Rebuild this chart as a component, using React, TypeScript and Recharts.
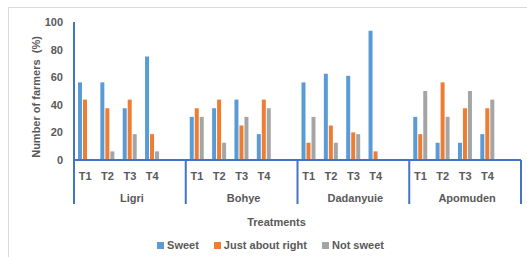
import React from 'react';
import { BarChart, Bar, XAxis, YAxis, Legend, Label } from 'recharts';

const locations = ['Ligri', 'Bohye', 'Dadanyuie', 'Apomuden'];
const treatments = ['T1', 'T2', 'T3', 'T4'];
// values in location order, T1..T4 within each location
const sweetValues = [56.25, 56.25, 37.5, 75, 31.25, 37.5, 43.75, 18.75, 56.25, 62.5, 61, 93.75, 31.25, 12.5, 12.5, 18.75];
const justRightValues = [43.75, 37.5, 43.75, 18.75, 37.5, 43.75, 25, 43.75, 12.5, 25, 20, 6.25, 18.75, 56.25, 37.5, 37.5];
const notSweetValues = [0, 6.25, 18.75, 6.25, 31.25, 12.5, 31.25, 37.5, 31.25, 12.5, 18.75, 0, 50, 31.25, 50, 43.75];
const yTicks = [0, 20, 40, 60, 80, 100];

const FONT = '"Liberation Sans", Arial, sans-serif';
const TEXT = '#595959';
const AXIS = '#4472C4';

const series = [
  { key: 'sweet', name: 'Sweet', color: '#5B9BD5' },
  { key: 'jar', name: 'Just about right', color: '#ED7D31' },
  { key: 'notSweet', name: 'Not sweet', color: '#A5A5A5' },
];

type Row = {
  key: string;
  t: string;
  loc: string;
  sweet: number | null;
  jar: number | null;
  notSweet: number | null;
  sepLeft: boolean;
  sepRight: boolean;
};

const data: Row[] = [];
locations.forEach((loc, li) => {
  treatments.forEach((t, ti) => {
    const i = li * treatments.length + ti;
    data.push({
      key: `${loc}-${t}`,
      t,
      loc: ti === 2 ? loc : '',
      sweet: sweetValues[i],
      jar: justRightValues[i],
      notSweet: notSweetValues[i],
      sepLeft: ti === 0,
      sepRight: false,
    });
  });
  data.push({
    key: `${loc}-gap`,
    t: '',
    loc: '',
    sweet: null,
    jar: null,
    notSweet: null,
    sepLeft: false,
    sepRight: li === locations.length - 1,
  });
});

const CategoryTick = (props: any) => {
  const { x, y, payload } = props;
  const row = data[payload.index] || data.find((d) => d.key === payload.value);
  const off = payload.offset || 0;
  if (!row) return null;
  return (
    <g>
      {row.sepLeft && <line x1={x - off} x2={x - off} y1={y} y2={y + 44} stroke={AXIS} strokeWidth={2} />}
      {row.sepRight && <line x1={x + off} x2={x + off} y1={y} y2={y + 44} stroke={AXIS} strokeWidth={2} />}
      {row.t && (
        <text x={x} y={y + 16} textAnchor="middle" dominantBaseline="central" fontFamily={FONT} fontWeight="bold" fontSize={11} fill={TEXT}>
          {row.t}
        </text>
      )}
      {row.loc && (
        <text x={x + 2} y={y + 38} textAnchor="middle" dominantBaseline="central" fontFamily={FONT} fontWeight="bold" fontSize={11} fill={TEXT}>
          {row.loc}
        </text>
      )}
    </g>
  );
};

const renderLegend = () => (
  <div
    style={{
      display: 'flex',
      justifyContent: 'center',
      alignItems: 'center',
      height: 24,
      fontFamily: FONT,
      fontWeight: 'bold',
      fontSize: 11,
      color: TEXT,
    }}
  >
    {series.map((s, i) => (
      <span key={s.key} style={{ display: 'flex', alignItems: 'center', marginLeft: i === 0 ? 0 : 15 }}>
        <span style={{ display: 'inline-block', width: 7, height: 7, background: s.color, marginRight: 3 }} />
        {s.name}
      </span>
    ))}
  </div>
);

export default function App() {
  return (
    <div style={{ position: 'fixed', left: 0, top: 0, width: 527, height: 257, background: '#fff', overflow: 'hidden' }}>
      <div
        style={{
          position: 'absolute',
          left: 8,
          top: 7,
          width: 700,
          height: 400,
          borderTop: '1px solid #D9D9D9',
          borderLeft: '1px solid #D9D9D9',
        }}
      />
      <div style={{ position: 'absolute', left: 0, top: 0 }}>
        <BarChart
          width={527}
          height={257}
          data={data}
          margin={{ top: 22, right: 6, left: 0, bottom: 0 }}
          barSize={4}
          barGap={1}
        >
          <XAxis
            dataKey="key"
            interval={0}
            height={73}
            tickLine={false}
            tickSize={0}
            tickMargin={0}
            axisLine={{ stroke: AXIS, strokeWidth: 2 }}
            tick={<CategoryTick />}
          >
            <Label
              content={(p: any) => {
                const vb = p.viewBox || {};
                return (
                  <text
                    x={vb.x + vb.width / 2 - 21}
                    y={vb.y + 62}
                    textAnchor="middle"
                    dominantBaseline="central"
                    fontFamily={FONT}
                    fontWeight="bold"
                    fontSize={11}
                    fill={TEXT}
                  >
                    Treatments
                  </text>
                );
              }}
            />
          </XAxis>
          <YAxis
            width={74}
            domain={[0, 100]}
            ticks={yTicks}
            interval={0}
            tickLine={false}
            tickSize={0}
            tickMargin={11}
            axisLine={{ stroke: AXIS, strokeWidth: 2 }}
            tick={{ fontFamily: FONT, fontWeight: 'bold', fontSize: 11, fill: TEXT }}
          >
            <Label
              content={(p: any) => {
                const vb = p.viewBox || {};
                const cx = vb.x + 36;
                const cy = vb.y + vb.height / 2 + 6;
                return (
                  <text
                    x={cx}
                    y={cy}
                    transform={`rotate(-90 ${cx} ${cy})`}
                    textAnchor="middle"
                    dominantBaseline="central"
                    fontFamily={FONT}
                    fontWeight="bold"
                    fontSize={11}
                    fill={TEXT}
                    style={{ whiteSpace: 'pre' }}
                  >
                    {'Number of farmers  (%)'}
                  </text>
                );
              }}
            />
          </YAxis>
          <Legend
            verticalAlign="bottom"
            height={24}
            content={renderLegend}
            wrapperStyle={{ left: 0, width: 541, height: 24 }}
          />
          {series.map((s) => (
            <Bar key={s.key} dataKey={s.key} name={s.name} fill={s.color} isAnimationActive={false} />
          ))}
        </BarChart>
      </div>
    </div>
  );
}
